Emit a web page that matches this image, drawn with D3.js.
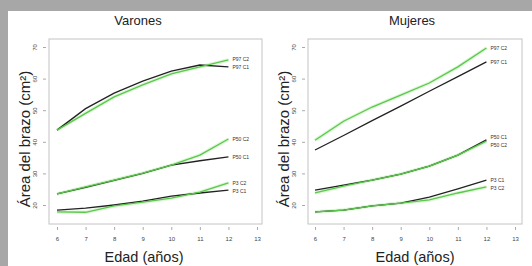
<!DOCTYPE html>
<html>
<head>
<meta charset="utf-8">
<script src="https://cdn.jsdelivr.net/npm/d3@7"></script>
<style>
  body { margin: 0; background: #a7a7a7; }
  text { font-family: "Liberation Sans", Arial, sans-serif; }
</style>
</head>
<body>
<div id="chart"></div>
<script>
// Ages on the x axis
const ages = [6, 7, 8, 9, 10, 11, 12];
const xTicks = [6, 7, 8, 9, 10, 11, 12, 13];
const yTicks = [20, 30, 40, 50, 60, 70];

// Varones
const varP97C1 = [43.7, 50.5, 55.4, 59.2, 62.4, 64.3, 63.7];
const varP97C2 = [43.7, 49.0, 54.2, 58.0, 61.5, 63.7, 65.9];
const varP50C1 = [23.5, 25.6, 27.8, 30.0, 32.6, 34.0, 35.2];
const varP50C2 = [23.5, 25.7, 27.9, 30.1, 32.6, 35.8, 40.9];
const varP3C1 = [18.4, 19.0, 20.0, 21.2, 22.8, 23.8, 24.7];
const varP3C2 = [17.8, 17.7, 19.7, 20.9, 22.2, 24.1, 27.0];

// Mujeres
const mujP97C1 = [37.4, 42.0, 46.7, 51.3, 56.0, 60.6, 65.3];
const mujP97C2 = [40.5, 46.5, 51.0, 54.8, 58.6, 63.7, 69.7];
const mujP50C1 = [24.7, 26.3, 27.9, 29.8, 32.3, 35.8, 40.6];
const mujP50C2 = [23.8, 26.0, 27.9, 29.8, 32.3, 35.8, 40.2];
const mujP3C1 = [17.8, 18.4, 19.7, 20.6, 22.5, 25.1, 27.9];
const mujP3C2 = [17.8, 18.4, 19.7, 20.6, 21.6, 23.8, 25.7];

const width = 532, height = 266;
const black = '#222', green = '#5ac84b';

const svg = d3
  .select('#chart')
  .append('svg')
  .attr('width', width)
  .attr('height', height);

svg.append('rect').attr('width', width).attr('height', height).attr('fill', '#a7a7a7');
svg.append('rect').attr('x', 8).attr('y', 11).attr('width', width - 8).attr('height', height - 11).attr('fill', '#fff');

function drawPanel(opts) {
  const { title, titleX, titleXc, x0, boxL, boxR, series } = opts;
  const x = d3.scaleLinear().domain([6, 13]).range([x0, x0 + 200]);
  const y = d3.scaleLinear().domain([20, 70]).range([205, 47]);
  const g = svg.append('g');

  // plot box
  g.append('rect')
    .attr('x', boxL).attr('y', 39)
    .attr('width', boxR - boxL).attr('height', 185)
    .attr('fill', 'none').attr('stroke', '#c4c4c4').attr('stroke-width', 1);

  // x axis
  const xa = g.append('g')
    .attr('transform', 'translate(0,227)')
    .call(d3.axisBottom(x).tickValues(xTicks).tickSize(3).tickPadding(7).tickFormat(d3.format('d')));
  xa.select('.domain').remove();
  xa.selectAll('line').attr('stroke', '#aaa');
  xa.selectAll('text').attr('font-size', 6).attr('fill', '#444');

  // y axis, labels parallel to the axis
  const ya = g.append('g')
    .attr('transform', `translate(${boxL - 3},0)`)
    .call(d3.axisLeft(y).tickValues(yTicks).tickSize(3).tickPadding(0).tickFormat(''));
  ya.select('.domain').remove();
  ya.selectAll('line').attr('stroke', '#aaa');
  ya.selectAll('.tick')
    .append('text')
    .attr('transform', 'translate(-9,0) rotate(-90)')
    .attr('text-anchor', 'middle')
    .attr('font-size', 6)
    .attr('fill', '#444')
    .text((d) => d);

  // titles
  g.append('text').attr('x', titleX).attr('y', 25).attr('text-anchor', 'middle')
    .attr('font-size', 13).attr('fill', '#222').text(title);
  g.append('text').attr('x', titleXc).attr('y', 262).attr('text-anchor', 'middle')
    .attr('font-size', 14.5).attr('fill', '#222').text('Edad (años)');
  g.append('text')
    .attr('transform', `translate(${boxL - 19},139) rotate(-90)`)
    .attr('text-anchor', 'middle')
    .attr('font-size', 15).attr('fill', '#222')
    .text('Área del brazo (cm²)');

  const line = d3.line().x((d, i) => x(ages[i])).y((d) => y(d));

  // soft green halo under the green lines
  series.filter((s) => s.color === green).forEach((s) => {
    g.append('path').datum(s.values).attr('d', line)
      .attr('fill', 'none').attr('stroke', '#cdf3c5').attr('stroke-width', 3.5).attr('opacity', 0.7);
  });
  series.forEach((s) => {
    g.append('path').datum(s.values).attr('d', line)
      .attr('fill', 'none').attr('stroke', s.color).attr('stroke-width', 1.3);
  });

  // end labels, nudged apart
  const labels = series.map((s) => ({ name: s.name, y: y(s.values[s.values.length - 1]) }))
    .sort((a, b) => a.y - b.y);
  for (let i = 1; i < labels.length; i++) {
    const gap = labels[i].y - labels[i - 1].y;
    if (gap < 8) {
      const shift = (8 - gap) / 2;
      labels[i - 1].y -= shift;
      labels[i].y += shift;
    }
  }
  labels.forEach((l) => {
    g.append('text').attr('x', x(12) + 4).attr('y', l.y + 2)
      .attr('font-size', 5).attr('fill', '#333').text(l.name);
  });
}

drawPanel({
  title: 'Varones', titleX: 138, titleXc: 144, x0: 57, boxL: 49, boxR: 262,
  series: [
    { name: 'P97 C1', values: varP97C1, color: black },
    { name: 'P97 C2', values: varP97C2, color: green },
    { name: 'P50 C1', values: varP50C1, color: black },
    { name: 'P50 C2', values: varP50C2, color: green },
    { name: 'P3 C1', values: varP3C1, color: black },
    { name: 'P3 C2', values: varP3C2, color: green }
  ]
});

drawPanel({
  title: 'Mujeres', titleX: 412, titleXc: 415, x0: 315, boxL: 308, boxR: 522,
  series: [
    { name: 'P97 C1', values: mujP97C1, color: black },
    { name: 'P97 C2', values: mujP97C2, color: green },
    { name: 'P50 C1', values: mujP50C1, color: black },
    { name: 'P50 C2', values: mujP50C2, color: green },
    { name: 'P3 C1', values: mujP3C1, color: black },
    { name: 'P3 C2', values: mujP3C2, color: green }
  ]
});
</script>
</body>
</html>
